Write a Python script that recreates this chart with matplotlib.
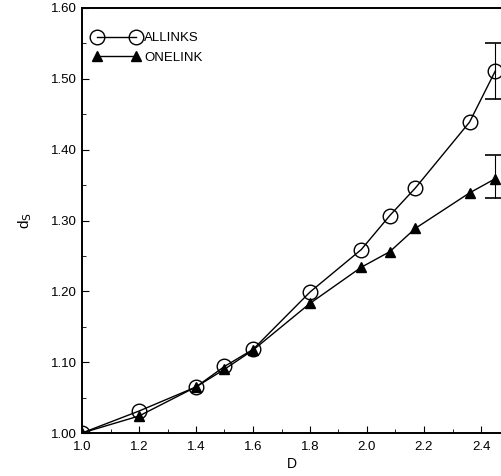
#!/usr/bin/env python3
"""d_s versus D for ALLINKS and ONELINK"""
import matplotlib
matplotlib.use('Agg')
import matplotlib.pyplot as plt
from matplotlib.ticker import MultipleLocator

plt.rcParams['font.family'] = ['Liberation Sans', 'DejaVu Sans']

# data
d_vals = [1.0, 1.2, 1.4, 1.5, 1.6, 1.8, 1.98, 2.08, 2.17, 2.36, 2.45]
allinks = [1.000, 1.031, 1.065, 1.094, 1.118, 1.199, 1.259, 1.307, 1.346, 1.439, 1.511]
onelink = [1.000, 1.024, 1.065, 1.090, 1.117, 1.183, 1.234, 1.256, 1.289, 1.339, 1.359]

# error bars on the last point
err_d = [2.45]
allinks_err_lo = [1.472]
allinks_err_hi = [1.551]
onelink_err_lo = [1.332]
onelink_err_hi = [1.392]

fig = plt.figure(figsize=(5.02, 4.76), dpi=100)
ax = fig.add_axes([82 / 502, 43 / 476, 420 / 502, 425 / 476])

ax.plot(d_vals, allinks, color='black', lw=1.0, marker='o', ms=10.5,
        mfc='none', mec='black', mew=1.0, label='ALLINKS')
ax.plot(d_vals, onelink, color='black', lw=1.0, marker='^', ms=7,
        mfc='black', mec='black', label='ONELINK')

ax.errorbar(err_d, [allinks[-1]],
            yerr=[[allinks[-1] - allinks_err_lo[0]], [allinks_err_hi[0] - allinks[-1]]],
            fmt='none', ecolor='black', elinewidth=0.8, capsize=7, capthick=1.2)
ax.errorbar(err_d, [onelink[-1]],
            yerr=[[onelink[-1] - onelink_err_lo[0]], [onelink_err_hi[0] - onelink[-1]]],
            fmt='none', ecolor='black', elinewidth=0.8, capsize=7, capthick=1.2)

ax.set_xlim(1.0, 1.0 + 420 / 285)
ax.set_ylim(1.0, 1.6)
ax.xaxis.set_major_locator(MultipleLocator(0.2))
ax.xaxis.set_minor_locator(MultipleLocator(0.1))
ax.yaxis.set_major_locator(MultipleLocator(0.1))
ax.yaxis.set_minor_locator(MultipleLocator(0.05))
ax.xaxis.set_major_formatter(matplotlib.ticker.FormatStrFormatter('%.1f'))
ax.yaxis.set_major_formatter(matplotlib.ticker.FormatStrFormatter('%.2f'))
ax.tick_params(which='both', direction='in', top=False, right=False, labelsize=9.5)
ax.tick_params(axis='x', which='major', pad=6)
ax.tick_params(which='major', length=5)
ax.tick_params(which='minor', length=3)

ax.spines['right'].set_visible(False)
for s in ['left', 'bottom', 'top']:
    ax.spines[s].set_linewidth(1.4)

ax.set_xlabel('D', fontsize=10, labelpad=3)
ax.set_ylabel('d$_\\mathrm{S}$', fontsize=11, labelpad=12)

ax.legend(loc='upper left', frameon=False, numpoints=2, fontsize=9.5,
          handlelength=3.6, handletextpad=0.3, labelspacing=0.55,
          bbox_to_anchor=(0.026, 0.943), borderaxespad=0.0, borderpad=0.0)

fig.savefig('out.png', dpi=100)
